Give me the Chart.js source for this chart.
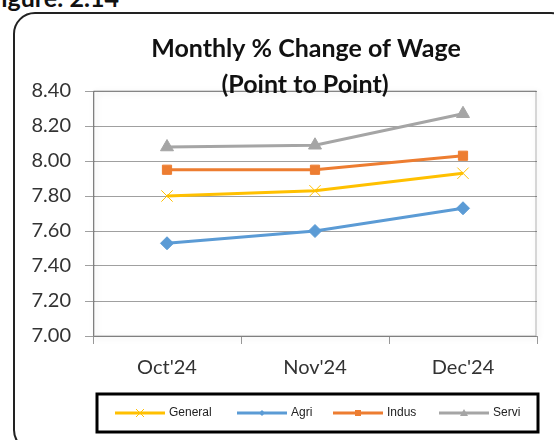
<!DOCTYPE html>
<html>
<head>
<meta charset="utf-8">
<script src="https://cdn.jsdelivr.net/npm/chart.js@4"></script>
<style>
  html, body { margin: 0; padding: 0; background: #fff; overflow: hidden; }
  #wrap { position: relative; width: 554px; height: 440px; overflow: hidden; }
  #fig { position: absolute; left: -13px; top: -18px; font: bold 25px Lato, sans-serif; color: #111; white-space: nowrap; }
  #frame { position: absolute; left: 13px; top: 12px; width: 560px; height: 440px;
           border: 2px solid #222; border-radius: 22px; box-sizing: border-box; }
  #chart { position: absolute; left: 0; top: 0; }
</style>
</head>
<body>
<div id="wrap">
  <div id="fig">Figure: 2.14</div>
  <div id="frame"></div>
  <canvas id="chart" width="554" height="440"></canvas>
</div>
<script>
const months = ["Oct'24", "Nov'24", "Dec'24"];
const generalValues = [7.80, 7.83, 7.93];
const agriValues = [7.53, 7.60, 7.73];
const indusValues = [7.95, 7.95, 8.03];
const serviValues = [8.08, 8.09, 8.27];
const titleLines = ['Monthly % Change of Wage', '(Point to Point)'];

const labelFont = 'Lato, sans-serif';

// excel-ish plot area with soft shadow edge
const plotFrame = {
    id: 'plotFrame',
    beforeDatasetsDraw(chart) {
        const { ctx, chartArea: a } = chart;
        ctx.save();
        ctx.strokeStyle = 'rgba(0,0,0,0.3)';
        ctx.shadowColor = 'rgba(0,0,0,0.55)';
        ctx.shadowBlur = 6;
        ctx.shadowOffsetX = 1.5;
        ctx.shadowOffsetY = 1.5;
        ctx.lineWidth = 1;
        ctx.strokeRect(a.left + 1, a.top, a.right - a.left - 2, a.bottom - a.top);
        ctx.restore();
    }
};

const titleAndLegend = {
    id: 'titleAndLegend',
    afterDraw(chart) {
        const { ctx } = chart;
        ctx.save();
        ctx.fillStyle = '#111';
        ctx.textAlign = 'center';
        ctx.textBaseline = 'alphabetic';
        ctx.font = 'bold 25px ' + labelFont;
        ctx.fillText(titleLines[0], 306, 57);
        ctx.fillText(titleLines[1], 305, 93);

        // legend box
        ctx.strokeStyle = '#000';
        ctx.lineWidth = 3;
        ctx.strokeRect(97, 394, 441, 38);
        ctx.font = '12px "Liberation Sans", Arial, sans-serif';
        ctx.textAlign = 'left';
        ctx.textBaseline = 'middle';
        const xs = [115, 237, 333, 439];
        const y = 413;
        chart.data.datasets.forEach((ds, i) => {
            const x = xs[i];
            ctx.strokeStyle = ds.borderColor;
            ctx.lineWidth = 3;
            ctx.beginPath();
            ctx.moveTo(x, y);
            ctx.lineTo(x + 50, y);
            ctx.stroke();
            ctx.fillStyle = ds.borderColor;
            ctx.strokeStyle = ds.borderColor;
            ctx.lineWidth = 1;
            const cx = x + 25;
            if (ds.pointStyle === 'crossRot') {
                ctx.beginPath();
                ctx.moveTo(cx - 4, y - 4); ctx.lineTo(cx + 4, y + 4);
                ctx.moveTo(cx + 4, y - 4); ctx.lineTo(cx - 4, y + 4);
                ctx.stroke();
            } else if (ds.pointStyle === 'rectRot') {
                ctx.beginPath();
                ctx.moveTo(cx, y - 3); ctx.lineTo(cx + 3, y); ctx.lineTo(cx, y + 3); ctx.lineTo(cx - 3, y);
                ctx.closePath(); ctx.fill();
            } else if (ds.pointStyle === 'rect') {
                ctx.fillRect(cx - 3, y - 3, 6, 6);
            } else {
                ctx.beginPath();
                ctx.moveTo(cx, y - 4); ctx.lineTo(cx + 4, y + 3); ctx.lineTo(cx - 4, y + 3);
                ctx.closePath(); ctx.fill();
            }
            ctx.fillStyle = '#222';
            ctx.fillText(ds.label, x + 54, y);
        });
        ctx.restore();
    }
};

const series = [
    { label: 'General', data: generalValues, color: '#FFC000', style: 'crossRot', r: 8 },
    { label: 'Agri', data: agriValues, color: '#5B9BD5', style: 'rectRot', r: 6.5 },
    { label: 'Indus', data: indusValues, color: '#ED7D31', style: 'rect', r: 6.5 },
    { label: 'Servi', data: serviValues, color: '#A5A5A5', style: 'triangle', r: 7.5 }
];

new Chart(document.getElementById('chart'), {
    type: 'line',
    data: {
        labels: months,
        datasets: series.map(s => ({
            label: s.label,
            data: s.data,
            borderColor: s.color,
            backgroundColor: s.color,
            borderWidth: 3,
            pointStyle: s.style,
            pointRadius: s.r,
            pointBorderWidth: 1,
            pointBorderColor: s.color,
            pointBackgroundColor: s.color,
            tension: 0,
            fill: false
        }))
    },
    options: {
        responsive: false,
        animation: false,
        layout: { padding: { left: 0, top: 91, right: 17, bottom: 54 } },
        plugins: { legend: { display: false }, title: { display: false }, tooltip: { enabled: false } },
        scales: {
            x: {
                offset: true,
                afterFit: s => { s.height = 50; },
                grid: { offset: true, drawOnChartArea: false, drawTicks: true, tickLength: 8, color: '#999' },
                border: { color: '#999', width: 1 },
                ticks: { color: '#333', font: { family: labelFont, size: 20 }, padding: 12 }
            },
            y: {
                min: 7.0,
                max: 8.4,
                afterFit: s => { s.width = 93; },
                afterBuildTicks: s => { s.ticks = [7.0, 7.2, 7.4, 7.6, 7.8, 8.0, 8.2, 8.4].map(v => ({ value: v })); },
                grid: { color: '#a0a0a0', lineWidth: 1, tickLength: 8 },
                border: { color: '#999', width: 1 },
                ticks: {
                    color: '#333',
                    font: { family: labelFont, size: 20 },
                    padding: 14,
                    callback: v => Number(v).toFixed(2)
                }
            }
        }
    },
    plugins: [plotFrame, titleAndLegend]
});
</script>
</body>
</html>
